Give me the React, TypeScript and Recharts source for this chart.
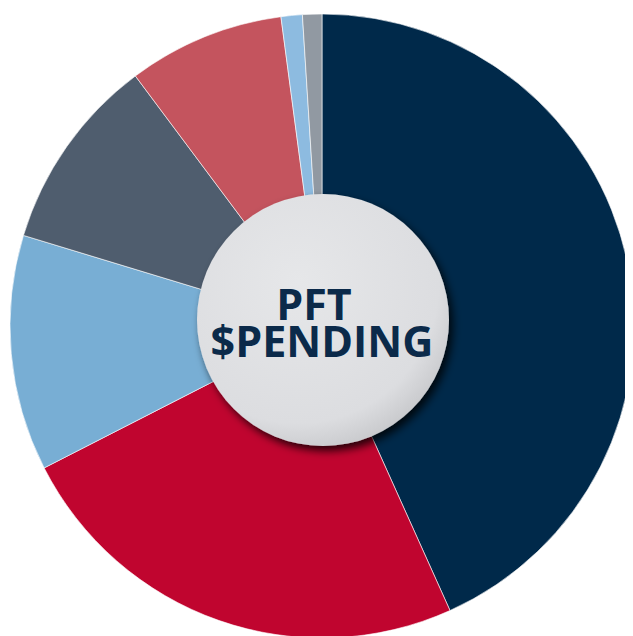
import React from 'react';
import { PieChart, Pie, Cell } from 'recharts';

const categories = ['A', 'B', 'C', 'D', 'E', 'F', 'G'];
const shares = [43.25, 24.2, 12.2, 10.1, 8.1, 1.1, 1.0];
const colors = ['#00294a', '#c0052f', '#78aed4', '#4f5d6e', '#c4545e', '#8dbbe0', '#9199a2'];
const titleLines = ['PFT', '$PENDING'];

const data = categories.map((name, i) => ({ name, value: shares[i] }));

const W = 625;
const H = 628;

const App = () => (
  <div style={{ position: 'relative', width: W, height: H, overflow: 'hidden' }}>
    <PieChart width={W} height={H} margin={{ top: 0, right: 0, bottom: 0, left: 0 }}>
      <Pie
        data={data}
        dataKey="value"
        nameKey="name"
        cx={314}
        cy={318}
        outerRadius={312}
        innerRadius={0}
        startAngle={90}
        endAngle={-270}
        stroke="#ffffff"
        strokeWidth={0.6}
        isAnimationActive={false}
      >
        {data.map((d, i) => (
          <Cell key={d.name} fill={colors[i]} />
        ))}
      </Pie>
    </PieChart>
    <svg width={W} height={H} style={{ position: 'absolute', left: 0, top: 0, pointerEvents: 'none' }}>
      <defs>
        <radialGradient id="btn" cx="40%" cy="35%" r="70%">
          <stop offset="0%" stopColor="#e6e7e9" />
          <stop offset="80%" stopColor="#dcdde0" />
          <stop offset="100%" stopColor="#c6c7ca" />
        </radialGradient>
        <filter id="shadow" x="-20%" y="-20%" width="140%" height="140%">
          <feDropShadow dx="4" dy="5" stdDeviation="4" floodColor="#000" floodOpacity="0.8" />
        </filter>
      </defs>
      <circle cx={315} cy={312} r={126} fill="url(#btn)" filter="url(#shadow)" />
      <text
        textAnchor="middle"
        fill="#0b2a4a"
        fontFamily="'Open Sans', sans-serif"
        fontWeight={700}
        fontSize={43}
      >
        <tspan x={306} y={312}>{titleLines[0]}</tspan>
        <tspan x={314} y={349}>{titleLines[1]}</tspan>
      </text>
    </svg>
  </div>
);

export default App;
